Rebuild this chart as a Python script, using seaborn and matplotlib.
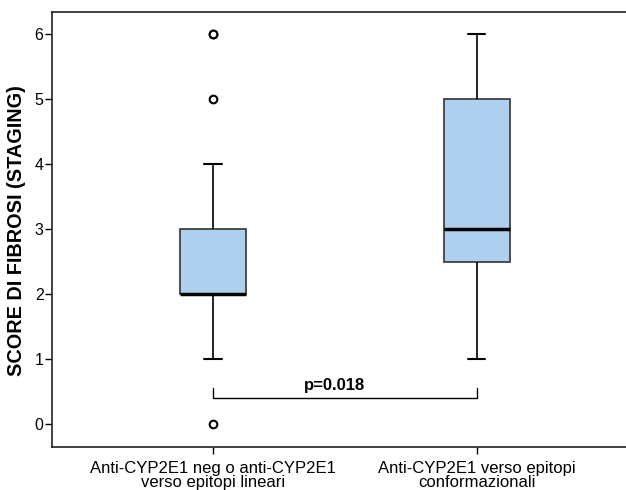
import matplotlib
matplotlib.use("Agg")
import matplotlib.pyplot as plt
import seaborn as sns
import pandas as pd

groups = [
    "Anti-CYP2E1 neg o anti-CYP2E1\nverso epitopi lineari",
    "Anti-CYP2E1 verso epitopi\nconformazionali",
]
scores_lineari = [0, 1, 1, 2, 2, 2, 2, 2, 2, 2, 2, 3, 3, 3, 3, 4, 5, 6, 6]
scores_conform = [1, 2, 2, 3, 3, 3, 4, 5, 5, 5, 6]
p_text = "p=0.018"

df = pd.DataFrame({
    "gruppo": [groups[0]] * len(scores_lineari) + [groups[1]] * len(scores_conform),
    "score": scores_lineari + scores_conform,
})

sns.set_style("white")
plt.rcParams["font.family"] = ["Liberation Sans", "DejaVu Sans"]
plt.rcParams["text.color"] = "black"
plt.rcParams["axes.labelcolor"] = "black"
plt.rcParams["xtick.color"] = "black"
plt.rcParams["ytick.color"] = "black"

fig = plt.figure(figsize=(6.26, 4.9), dpi=100)
ax = fig.add_axes([0.083, 0.0884, 0.917, 0.8871])

sns.boxplot(
    data=df, x="gruppo", y="score", order=groups, ax=ax,
    color="#aed0ee", saturation=1, width=0.25, whis=1.5,
    linewidth=1.2, linecolor="#333333",
    flierprops=dict(marker="o", markersize=5.5, markerfacecolor="white",
                    markeredgecolor="black", markeredgewidth=1.5),
    medianprops=dict(color="black", linewidth=2.5),
    whiskerprops=dict(color="black", linewidth=1.2),
    capprops=dict(color="black", linewidth=1.5),
    capwidths=0.065,
)

ax.set_xlim(-0.61, 1.565)
ax.set_ylim(-0.35, 6.34)
ax.set_yticks(range(0, 7))
ax.set_xlabel("")
ax.set_ylabel("SCORE DI FIBROSI (STAGING)", fontsize=14.3, fontweight="bold")
ax.yaxis.set_label_coords(-0.045, 0.497)
ax.tick_params(axis="y", labelsize=11.5, length=5, width=1, direction="out", left=True, pad=1)
ax.tick_params(axis="x", labelsize=12, length=5, width=1, direction="out", bottom=True, pad=5)
for lbl in ax.get_xticklabels():
    lbl.set_linespacing(0.95)

for side in ["left", "top", "bottom"]:
    ax.spines[side].set_color("#222222")
    ax.spines[side].set_linewidth(1.2)
ax.spines["right"].set_visible(False)

# significance bracket
ax.plot([0, 0, 1, 1], [0.55, 0.4, 0.4, 0.55], color="black", linewidth=1)
ax.text(0.46, 0.47, p_text, ha="center", va="bottom", fontsize=12, fontweight="bold")

fig.savefig("out.png", dpi=100)
